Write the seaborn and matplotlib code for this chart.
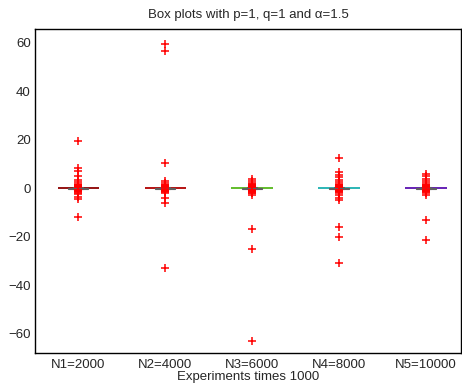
import matplotlib
matplotlib.use("Agg")
import matplotlib.pyplot as plt
import seaborn as sns
import pandas as pd

groups = ["N1=2000", "N2=4000", "N3=6000", "N4=8000", "N5=10000"]
line_colors = ["#8b0000", "#b00000", "#55b81a", "#1ab0b0", "#5a10b0"]

# tight core of values around zero (the box itself is tiny)
core = [-0.15, -0.14, -0.13, -0.12, -0.11, -0.1, -0.09, -0.08, -0.07, -0.06, -0.05,
        -0.04, -0.03, -0.02, -0.01, -0.01, 0.0, 0.0, 0.0, 0.0, 0.0, 0.0,
        0.01, 0.01, 0.02, 0.03, 0.04, 0.05, 0.06, 0.07, 0.08, 0.09, 0.1,
        0.11, 0.12, 0.13, 0.14, 0.15, -0.03, 0.03, -0.06, 0.06, -0.09, 0.09]

# dense cluster of small outliers that forms the red blob at zero
blob = [-1.5, -1.3, -1.2, -1.1, -1.0, -0.9, -0.8, -0.7, -0.6, -0.5, -0.45, -0.4,
        0.4, 0.45, 0.5, 0.6, 0.7, 0.8, 0.9, 1.0, 1.1, 1.2, 1.3, 1.5]

# larger outliers
out_n1 = [19.5, 8.5, 7.0, 5.0, 3.5, 2.5, 1.8, -1.8, -2.5, -3.5, -4.5, -12.0]
out_n2 = [59.5, 56.5, 10.5, 3.0, 2.0, -2.0, -4.0, -6.0, -33.0]
out_n3 = [4.0, 3.0, 2.2, 1.8, -1.8, -2.0, -3.0, -17.0, -25.0, -63.0]
out_n4 = [12.5, 6.5, 5.5, 4.5, 3.5, 2.5, 1.8, -2.0, -3.0, -4.0, -5.0,
          -16.0, -20.0, -31.0]
out_n5 = [6.0, 5.0, 4.0, 3.0, 2.0, -2.0, -3.0, -13.0, -21.5]

outliers = [out_n1, out_n2, out_n3, out_n4, out_n5]

rows = []
for g, out in zip(groups, outliers):
    for v in core + blob + out:
        rows.append({"group": g, "value": v})
df = pd.DataFrame(rows)

sns.set_style("white")
plt.rcParams["font.family"] = ["Liberation Sans", "DejaVu Sans"]
plt.rcParams["font.size"] = 9.5

fig = plt.figure(figsize=(4.62, 3.85), dpi=100)
ax = fig.add_axes([0.0758, 0.0831, 0.922, 0.8416])

sns.boxplot(data=df, x="group", y="value", order=groups, color="#808080",
            width=0.23, whis=1.5, linewidth=0.8, ax=ax,
            boxprops=dict(facecolor="#808080", edgecolor="#606060"),
            whiskerprops=dict(color="#606060"), capprops=dict(color="#606060"),
            medianprops=dict(color="#606060"),
            flierprops=dict(marker="+", markeredgecolor="red", markersize=6,
                            markeredgewidth=1.1, zorder=5))

medians = df.groupby("group")["value"].median().reindex(groups)
for i, (m, c) in enumerate(zip(medians, line_colors)):
    ax.hlines(m, i - 0.24, i + 0.24, color=c, linewidth=1.3, zorder=1)

ax.set_xlim(-0.5, 4.4)
ax.set_ylim(-68, 65.7)
ax.set_yticks([-60, -40, -20, 0, 20, 40, 60])
ax.tick_params(axis="y", direction="in", length=3, width=0.8, pad=3, labelsize=9.5)
ax.tick_params(axis="x", length=0, pad=4, labelsize=9.5)
for s in ax.spines.values():
    s.set_visible(True)
    s.set_color("black")
    s.set_linewidth(1.0)

ax.set_title("Box plots with p=1, q=1 and \u03b1=1.5", fontsize=9.5, pad=8)
ax.set_xlabel("Experiments times 1000", fontsize=9.5, labelpad=0)
ax.set_ylabel("")

fig.savefig("out.png", dpi=100)
